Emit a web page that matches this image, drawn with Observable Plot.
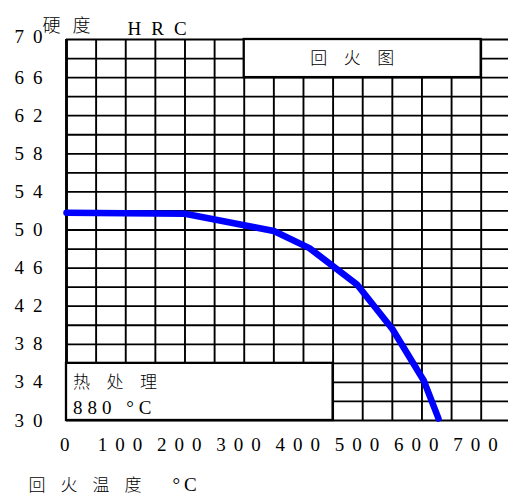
<!DOCTYPE html>
<html>
<head>
<meta charset="utf-8">
<script src="https://cdn.jsdelivr.net/npm/d3@7"></script>
<script src="https://cdn.jsdelivr.net/npm/@observablehq/plot@0.6"></script>
<style>
  html, body { margin: 0; padding: 0; background: #fff; overflow: hidden; }
</style>
</head>
<body>
<div id="chart"></div>
<script>
// Tempering curve: temperature (°C) vs hardness (HRC)
const temperature = [0, 200, 300, 350, 410, 490, 550, 603, 628];
const hardness    = [51.8, 51.7, 50.5, 49.9, 48.1, 44.3, 39.6, 34.2, 30.2];

// axis tick labels
const xTickValues = [0, 100, 200, 300, 400, 500, 600, 700];
const yTickValues = [30, 34, 38, 42, 46, 50, 54, 58, 62, 66, 70];

// grid lines
const xGridValues = [0, 50, 100, 150, 200, 250, 300, 350, 400, 450, 500, 550, 600, 650, 700];
const yGridValues = [30, 32, 34, 36, 38, 40, 42, 44, 46, 48, 50, 52, 54, 56, 58, 60, 62, 64, 66, 68, 70];

// annotation boxes (temperature / hardness extents)
const boxNames = ["title", "treatment"];
const boxT1 = [300, 0];
const boxT2 = [700, 450];
const boxH1 = [66, 30];
const boxH2 = [70, 36];

// texts
const yTitleCJK = "硬度";
const yTitleUnit = "HRC";
const xTitleCJK = "回火温度";
const xTitleUnit = "°C";
const boxTitle = "回火图";
const treatLine1 = "热处理";
const treatLine2 = "880 °C";

const curve = temperature.map((t, i) => ({t, h: hardness[i]}));
const boxes = boxNames.map((n, i) => ({n, x1: boxT1[i], x2: boxT2[i], y1: boxH1[i], y2: boxH2[i]}));

const FONT = "'Liberation Serif', 'Noto Sans CJK SC', serif";
const CJK = "'Noto Sans CJK SC', sans-serif";

const chart = Plot.plot({
  width: 508,
  height: 503,
  marginLeft: 66,
  marginRight: 27.3,
  marginTop: 39,
  marginBottom: 83,
  x: {domain: [0, 700], axis: null},
  y: {domain: [30, 70], axis: null},
  style: {fontFamily: FONT, background: "white", color: "black"},
  marks: [
    Plot.ruleY(yGridValues, {y: d => d, x1: 0, x2: 760, stroke: "black", strokeWidth: 1.8}),
    Plot.ruleX(xGridValues, {x: d => d, y1: 30, y2: 70, stroke: "black", strokeWidth: 1.9}),
    Plot.ruleX([0], {x: d => d, y1: 30, y2: 70, stroke: "black", strokeWidth: 2.8}),
    Plot.rect(boxes, {x1: "x1", x2: "x2", y1: "y1", y2: "y2", fill: "white", stroke: "black", strokeWidth: 2.3}),
    Plot.line(curve, {x: "t", y: "h", stroke: "#0000ff", strokeWidth: 6.5, strokeLinejoin: "round", strokeLinecap: "round"}),

    // y tick labels
    Plot.text(yTickValues.filter(d => d !== 70), {y: d => d, text: d => String(d), frameAnchor: "left", dx: -52, textAnchor: "start", fontSize: 19, fill: "black", ariaDescription: "ytick"}),
    Plot.text(yTickValues.filter(d => d === 70), {y: d => d, text: d => String(d), frameAnchor: "left", dx: -52, dy: -3, textAnchor: "start", fontSize: 19, fill: "black", ariaDescription: "ytick"}),

    // x tick labels
    Plot.text(xTickValues.filter(d => d !== 0), {x: d => d, text: d => String(d), frameAnchor: "bottom", dy: 30, dx: -28, textAnchor: "start", fontSize: 19, fill: "black", ariaDescription: "xtick"}),
    Plot.text(xTickValues.filter(d => d === 0), {x: d => d, text: d => String(d), frameAnchor: "bottom", dy: 30, dx: -6.5, textAnchor: "start", fontSize: 19, fill: "black", ariaDescription: "xtick"}),

    // y axis title
    Plot.text([yTitleCJK], {text: d => d, frameAnchor: "top-left", dx: -24, dy: -20.5, textAnchor: "start", fontSize: 18, fontFamily: CJK, fontWeight: 300, fill: "black", ariaDescription: "ytitle-cjk"}),
    Plot.text([yTitleUnit], {text: d => d, frameAnchor: "top-left", dx: 61, dy: -18, textAnchor: "start", fontSize: 19, fill: "black", ariaDescription: "ytitle-unit"}),

    // x axis title
    Plot.text([xTitleCJK], {text: d => d, frameAnchor: "bottom-left", dx: -38, dy: 70, textAnchor: "start", fontSize: 17, fontFamily: CJK, fontWeight: 300, fill: "black", ariaDescription: "xtitle-cjk"}),
    Plot.text([xTitleUnit], {text: d => d, frameAnchor: "bottom-left", dx: 106, dy: 70, textAnchor: "start", fontSize: 19, fill: "black", ariaDescription: "xtitle-unit"}),

    // box texts
    Plot.text([boxTitle], {text: d => d, x: 300, y: 68, dx: 66, dy: -0.5, textAnchor: "start", fontSize: 17, fontFamily: CJK, fontWeight: 300, fill: "black", ariaDescription: "boxtitle"}),
    Plot.text([treatLine1], {text: d => d, x: 0, y: 34, dx: 6.5, dy: 0.5, textAnchor: "start", fontSize: 17, fontFamily: CJK, fontWeight: 300, fill: "black", ariaDescription: "treat1"}),
    Plot.text([treatLine2], {text: d => d, x: 0, y: 32, dx: 6.5, dy: 6.5, textAnchor: "start", fontSize: 19, fill: "black", ariaDescription: "treat2"})
  ]
});

// letter-spacing between characters (not after the last one)
const spacing = {
  "ytick": "9px",
  "xtick": "8px",
  "ytitle-cjk": "12px",
  "ytitle-unit": "10px",
  "xtitle-cjk": "15px",
  "xtitle-unit": "4px",
  "boxtitle": "16.5px",
  "treat1": "16.5px",
  "treat2": "5px"
};
for (const [label, ls] of Object.entries(spacing)) {
  d3.select(chart).selectAll(`g[aria-description="${label}"] text`).each(function() {
    const s = this.textContent;
    if (s.length < 2) return;
    const t = d3.select(this);
    t.text(null);
    t.append("tspan").style("letter-spacing", ls).text(s.slice(0, -1));
    t.append("tspan").text(s.slice(-1));
  });
}

document.getElementById("chart").appendChild(chart);
</script>
</body>
</html>
